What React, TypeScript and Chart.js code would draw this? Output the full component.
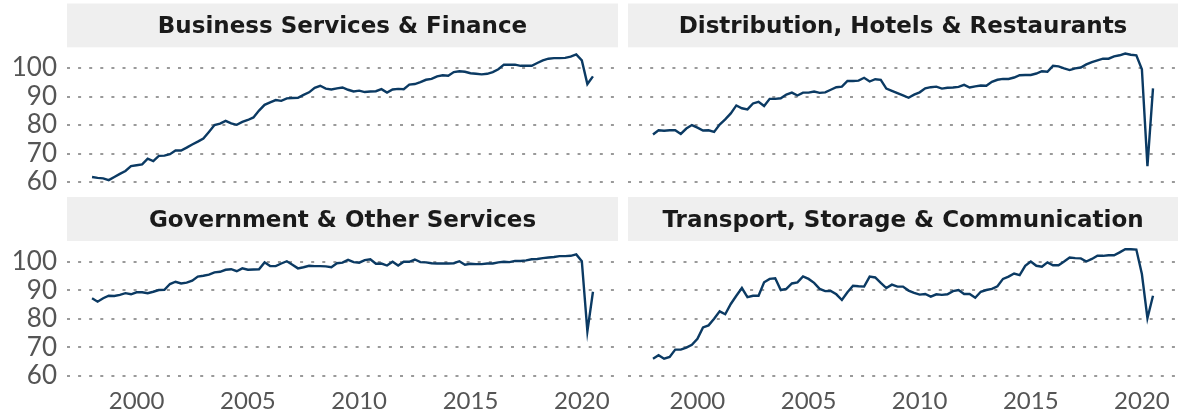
import React, { useEffect, useRef } from "react";
import { Chart, registerables } from "chart.js";

Chart.register(...registerables);

// ---- DATA ----
const startYear = 1998;
const quarterCount = 91; // 1998 Q1 .. 2020 Q3
const quarterLabels: string[] = Array.from({ length: quarterCount }, (_, i) => `${startYear + Math.floor(i / 4)} Q${(i % 4) + 1}`);

const businessServices = [
  61.8, 61.5, 61.3, 60.7, 61.8, 62.9, 63.9, 65.6, 65.9, 66.2,
  68.2, 67.4, 69.2, 69.3, 69.8, 71.1, 71.1, 72.1, 73.2, 74.2,
  75.3, 77.6, 80.0, 80.5, 81.5, 80.6, 80.1, 81.1, 81.8, 82.7,
  85.1, 87.1, 88.0, 88.8, 88.5, 89.4, 89.5, 89.6, 90.6, 91.5,
  93.1, 93.8, 92.8, 92.5, 92.9, 93.2, 92.4, 91.8, 92.1, 91.6,
  91.8, 91.9, 92.6, 91.4, 92.5, 92.7, 92.6, 94.2, 94.4, 95.1,
  95.9, 96.2, 97.1, 97.5, 97.3, 98.6, 98.9, 98.7, 98.2, 98.0,
  97.8, 98.0, 98.6, 99.6, 101.2, 101.2, 101.2, 100.8, 100.8, 100.8,
  101.8, 102.7, 103.3, 103.5, 103.5, 103.6, 104.0, 104.8, 102.7, 94.4,
  97.1,
];

const distribution = [
  76.7, 78.2, 78.0, 78.2, 78.2, 76.9, 78.8, 80.0, 79.1, 78.1,
  78.2, 77.6, 80.2, 82.0, 84.1, 86.9, 85.9, 85.5, 87.6, 88.2,
  86.7, 89.2, 89.2, 89.4, 90.7, 91.4, 90.4, 91.4, 91.4, 91.8,
  91.3, 91.5, 92.4, 93.3, 93.5, 95.5, 95.5, 95.6, 96.6, 95.3,
  96.1, 95.9, 92.8, 92.0, 91.2, 90.4, 89.6, 90.7, 91.5, 92.9,
  93.3, 93.5, 92.8, 93.1, 93.2, 93.4, 94.1, 93.2, 93.6, 93.9,
  93.8, 95.2, 95.9, 96.2, 96.2, 96.7, 97.5, 97.6, 97.6, 98.1,
  98.9, 98.7, 100.8, 100.6, 99.9, 99.3, 99.9, 100.2, 101.3, 102.1,
  102.7, 103.3, 103.3, 104.1, 104.5, 105.1, 104.7, 104.5, 99.6, 65.6,
  92.9,
];

const government = [
  87.2, 86.0, 87.2, 88.1, 88.0, 88.4, 89.0, 88.6, 89.3, 89.3,
  89.0, 89.5, 90.1, 90.2, 92.2, 93.0, 92.4, 92.7, 93.4, 94.8,
  95.1, 95.5, 96.3, 96.5, 97.2, 97.4, 96.7, 97.7, 97.2, 97.3,
  97.4, 99.8, 98.5, 98.5, 99.4, 100.2, 99.0, 97.7, 98.1, 98.6,
  98.5, 98.5, 98.4, 98.1, 99.5, 99.7, 100.7, 99.9, 99.7, 100.6,
  100.9, 99.3, 99.4, 98.7, 100.0, 98.7, 100.0, 100.0, 100.8, 99.9,
  99.8, 99.5, 99.4, 99.4, 99.4, 99.5, 100.2, 99.0, 99.3, 99.2,
  99.2, 99.4, 99.4, 99.8, 100.0, 99.9, 100.3, 100.3, 100.5, 100.9,
  101.0, 101.3, 101.5, 101.7, 102.0, 102.0, 102.1, 102.6, 100.2, 75.6,
  89.5,
];

const transport = [
  66.0, 67.2, 66.0, 66.6, 69.2, 69.2, 69.9, 70.9, 73.0, 77.0,
  77.7, 80.0, 82.6, 81.6, 85.2, 88.1, 90.8, 87.6, 88.1, 88.1,
  92.8, 94.0, 94.2, 90.1, 90.5, 92.4, 92.8, 94.9, 94.0, 92.6,
  90.5, 89.7, 89.8, 88.6, 86.6, 89.3, 91.6, 91.4, 91.3, 94.8,
  94.5, 92.6, 90.8, 92.0, 91.3, 91.3, 89.9, 89.1, 88.5, 88.7,
  87.8, 88.6, 88.4, 88.6, 89.7, 90.1, 88.7, 88.7, 87.4, 89.5,
  90.1, 90.5, 91.4, 94.0, 94.8, 95.9, 95.3, 98.6, 100.1, 98.6,
  98.3, 99.8, 98.8, 98.8, 100.1, 101.5, 101.3, 101.2, 100.1, 101.0,
  102.1, 102.1, 102.3, 102.3, 103.3, 104.4, 104.4, 104.3, 95.7, 80.2,
  88.1,
];

const yTicks = [60, 70, 80, 90, 100];
const xTicks = [2000, 2005, 2010, 2015, 2020];

// ---- STYLE ----
const TICK_FONT = 'Lato, "DejaVu Sans", sans-serif';
const TITLE_FONT = '"DejaVu Sans", Lato, sans-serif';
const LINE_COLOR = "#0b3a63";
const STRIP_COLOR = "#efefef";
const GRID_COLOR = "#9a9a9a";
const TICK_COLOR = "#555555";
const X_MIN = 1996.875;
const X_MAX = 2021.625;
const Y_MIN = 56.0;
const Y_MAX = 107.3;

function quarterToX(label: string): number {
  const [y, q] = label.split(" Q");
  return Number(y) + (Number(q) - 1) / 4;
}

const stripPlugin = {
  id: "strip",
  beforeDraw(chart: any, _args: any, opts: any) {
    const { ctx, chartArea } = chart;
    ctx.save();
    ctx.fillStyle = opts.color;
    ctx.fillRect(chartArea.left, opts.top, chartArea.right - chartArea.left, chartArea.top - opts.top);
    ctx.restore();
  },
};

type PanelProps = {
  title: string;
  values: number[];
  showY: boolean;
  showX: boolean;
  left: number;
  top: number;
  width: number;
  height: number;
};

function Panel({ title, values, showY, showX, left, top, width, height }: PanelProps) {
  const ref = useRef<HTMLCanvasElement | null>(null);
  useEffect(() => {
    if (!ref.current) return;
    const isTop = !showX;
    const stripTop = isTop ? 3.5 : 0;
    const titleSize = 23;
    const lh = 1.1;
    const half = (titleSize * lh) / 2;
    const stripH = isTop ? 47.3 : 44;
    const centre = isTop ? 27.4 : 23.6;
    const titlePad = { top: centre - half, bottom: stripH - (centre - half) - 2 * half };
    const chart = new Chart(ref.current, {
      type: "line",
      data: {
        datasets: [
          {
            data: quarterLabels.map((q, i) => ({ x: quarterToX(q), y: values[i] })),
            borderColor: LINE_COLOR,
            borderWidth: 2.4,
            pointRadius: 0,
            tension: 0,
            fill: false,
          },
        ],
      },
      options: {
        responsive: false,
        animation: false,
        layout: { padding: { left: 0, right: 0, top: 0, bottom: isTop ? 3.5 : 0 } },
        plugins: {
          legend: { display: false },
          tooltip: { enabled: false },
          title: {
            display: true,
            text: title,
            fullSize: false,
            color: "#1a1a1a",
            font: { family: TITLE_FONT, size: titleSize, weight: "bold", lineHeight: lh },
            padding: titlePad,
          },
          strip: { top: stripTop, color: STRIP_COLOR },
        } as any,
        scales: {
          x: {
            type: "linear",
            min: X_MIN,
            max: X_MAX,
            display: showX,
            grid: { display: false, drawTicks: false },
            border: { display: false },
            ticks: {
              display: showX,
              color: TICK_COLOR,
              font: { family: TICK_FONT, size: 24 },
              padding: 0,
              maxRotation: 0,
              autoSkip: false,
              callback: (v: any) => String(v),
            },
            afterBuildTicks: (scale: any) => {
              scale.ticks = xTicks.map((v) => ({ value: v }));
            },
            afterFit: (scale: any) => {
              if (showX) scale.height = 26.8;
              scale.paddingLeft = 0;
              scale.paddingRight = 0;
            },
          },
          y: {
            type: "linear",
            min: Y_MIN,
            max: Y_MAX,
            grid: { color: GRID_COLOR, lineWidth: 2, drawTicks: false },
            border: { display: false, dash: [3, 8.1] },
            ticks: {
              display: showY,
              color: TICK_COLOR,
              font: { family: TICK_FONT, size: 26 },
              padding: 10,
              autoSkip: false,
              callback: (v: any) => String(v),
            },
            afterBuildTicks: (scale: any) => {
              scale.ticks = yTicks.map((v) => ({ value: v }));
            },
            afterFit: (scale: any) => {
              scale.width = showY ? 67 : 0;
              scale.paddingTop = 0;
              scale.paddingBottom = 0;
            },
          },
        },
      } as any,
      plugins: [stripPlugin],
    });
    return () => chart.destroy();
  }, [title, values, showY, showX]);

  return (
    <canvas
      ref={ref}
      width={width}
      height={height}
      style={{ position: "absolute", left, top, width, height, display: "block" }}
    />
  );
}

export default function App() {
  return (
    <div style={{ position: "fixed", left: 0, top: 0, width: 1178, height: 414, background: "#ffffff", overflow: "hidden" }}>
      <Panel title="Business Services & Finance" values={businessServices} showY showX={false} left={0} top={0} width={618} height={197} />
      <Panel title="Distribution, Hotels & Restaurants" values={distribution} showY={false} showX={false} left={628} top={0} width={550} height={197} />
      <Panel title="Government & Other Services" values={government} showY showX left={0} top={197} width={618} height={217} />
      <Panel title="Transport, Storage & Communication" values={transport} showY={false} showX left={628} top={197} width={550} height={217} />
    </div>
  );
}
